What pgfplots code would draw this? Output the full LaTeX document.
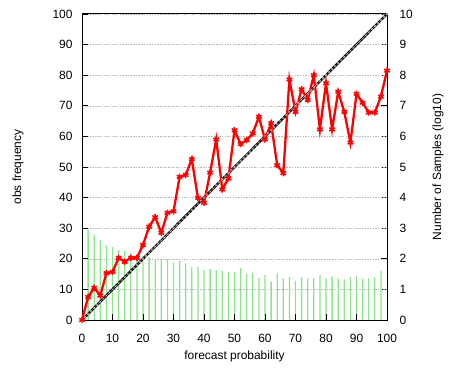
\documentclass[border=0pt]{standalone}
\usepackage{fontspec}
\setmainfont{Liberation Sans}
\usepackage{pgfplots}
\pgfplotsset{compat=1.18}
\definecolor{lgreen}{RGB}{140,228,140}
\definecolor{gridgray}{RGB}{185,185,185}
\begin{document}
\begin{tikzpicture}
\path[use as bounding box] (-82bp,-50bp) rectangle (369bp,320bp);
% right axis: number of samples
\begin{axis}[
  at={(0,0)}, anchor=south west,
  scale only axis, width=305bp, height=306bp,
  xmin=0, xmax=100, ymin=0, ymax=10,
  axis x line=none,
  axis y line*=right,
  tick align=inside,
  ytick={0,1,...,10},
  major tick length=6bp,
  tick style={black, line width=0.8pt},
  axis line style={black, line width=1pt},
  /pgf/number format/assume math mode=true,
  ticklabel style={font=\fontsize{12}{14}\selectfont},
  yticklabel style={xshift=9bp},
  ylabel={Number of Samples (log10)},
  ylabel style={font=\fontsize{12}{14}\selectfont, at={(axis description cs:1.167,0.5)}, anchor=center},
]
\addplot[ybar, bar width=1.3bp, fill=lgreen, draw=none] coordinates {
(0,3.00) (2,2.94) (4,2.78) (6,2.61) (8,2.45) (10,2.38) (12,2.29) (14,2.26) (16,2.18) (18,2.12)
(20,2.09) (22,2.05) (24,1.96) (26,1.96) (28,1.98) (30,1.87) (32,1.94) (34,1.85) (36,1.72) (38,1.74)
(40,1.63) (42,1.66) (44,1.63) (46,1.60) (48,1.57) (50,1.56) (52,1.70) (54,1.50) (56,1.55) (58,1.38)
(60,1.47) (62,1.25) (64,1.52) (66,1.36) (68,1.40) (70,1.28) (72,1.40) (74,1.36) (76,1.36) (78,1.47)
(80,1.36) (82,1.42) (84,1.36) (86,1.33) (88,1.40) (90,1.44) (92,1.36) (94,1.36) (96,1.39) (98,1.61)
};
\end{axis}
% main axis
\begin{axis}[
  at={(0,0)}, anchor=south west,
  scale only axis, width=305bp, height=306bp,
  xmin=0, xmax=100, ymin=0, ymax=100,
  xtick={0,10,...,100}, ytick={0,10,...,100},
  xtick pos=bottom, ytick pos=left,
  tick align=inside,
  major tick length=6bp,
  tick style={black, line width=0.8pt},
  axis line style={black, line width=1pt},
  ymajorgrids,
  major grid style={gridgray, dash pattern=on 1.5pt off 1.2pt, line width=0.5pt},
  /pgf/number format/assume math mode=true,
  ticklabel style={font=\fontsize{12}{14}\selectfont},
  yticklabel style={xshift=-6bp},
  xticklabel style={yshift=-11bp},
  xlabel={forecast probability},
  ylabel={obs frequency},
  xlabel style={font=\fontsize{12}{14}\selectfont, at={(axis description cs:0.5,-0.12)}, anchor=center},
  ylabel style={font=\fontsize{12}{14}\selectfont, at={(axis description cs:-0.21,0.5)}, anchor=center},
  clip=false,
]
\addplot[black, line width=2.4pt] coordinates {
(0,0) (1,1) (2,2) (3,3) (4,4) (5,5) (6,6) (7,7) (8,8) (9,9) (10,10) (11,11) (12,12) (13,13) (14,14) (15,15) (16,16) (17,17) (18,18) (19,19) (20,20) (21,21) (22,22) (23,23) (24,24) (25,25) (26,26) (27,27) (28,28) (29,29) (30,30) (31,31) (32,32) (33,33) (34,34) (35,35) (36,36) (37,37) (38,38) (39,39) (40,40) (41,41) (42,42) (43,43) (44,44) (45,45) (46,46) (47,47) (48,48) (49,49) (50,50) (51,51) (52,52) (53,53) (54,54) (55,55) (56,56) (57,57) (58,58) (59,59) (60,60) (61,61) (62,62) (63,63) (64,64) (65,65) (66,66) (67,67) (68,68) (69,69) (70,70) (71,71) (72,72) (73,73) (74,74) (75,75) (76,76) (77,77) (78,78) (79,79) (80,80) (81,81) (82,82) (83,83) (84,84) (85,85) (86,86) (87,87) (88,88) (89,89) (90,90) (91,91) (92,92) (93,93) (94,94) (95,95) (96,96) (97,97) (98,98) (99,99) (100,100)
};
\addplot[only marks, mark=x, mark size=1.8pt, gray!45, mark options={line width=0.45pt}] coordinates {
(0,0) (1,1) (2,2) (3,3) (4,4) (5,5) (6,6) (7,7) (8,8) (9,9) (10,10) (11,11) (12,12) (13,13) (14,14) (15,15) (16,16) (17,17) (18,18) (19,19) (20,20) (21,21) (22,22) (23,23) (24,24) (25,25) (26,26) (27,27) (28,28) (29,29) (30,30) (31,31) (32,32) (33,33) (34,34) (35,35) (36,36) (37,37) (38,38) (39,39) (40,40) (41,41) (42,42) (43,43) (44,44) (45,45) (46,46) (47,47) (48,48) (49,49) (50,50) (51,51) (52,52) (53,53) (54,54) (55,55) (56,56) (57,57) (58,58) (59,59) (60,60) (61,61) (62,62) (63,63) (64,64) (65,65) (66,66) (67,67) (68,68) (69,69) (70,70) (71,71) (72,72) (73,73) (74,74) (75,75) (76,76) (77,77) (78,78) (79,79) (80,80) (81,81) (82,82) (83,83) (84,84) (85,85) (86,86) (87,87) (88,88) (89,89) (90,90) (91,91) (92,92) (93,93) (94,94) (95,95) (96,96) (97,97) (98,98) (99,99) (100,100)
};
\addplot[red, line width=2.3pt, mark=asterisk, mark size=3.2pt, mark options={line width=1.5pt}] coordinates {
(0,0) (2,7.5) (4,10.5) (6,8) (8,15.3) (10,15.7) (12,20.3) (14,19) (16,20.3) (18,20.3)
(20,24.5) (22,30.5) (24,33.6) (26,28.5) (28,35) (30,35.5) (32,46.8) (34,47.4) (36,52.6) (38,39.9)
(40,38.3) (42,48.2) (44,59) (46,42.7) (48,46.3) (50,62) (52,57.5) (54,58.8) (56,61) (58,66.4)
(60,59) (62,64.3) (64,50.6) (66,48) (68,78.6) (70,68) (72,75.4) (74,71.9) (76,80) (78,62.3)
(80,77.4) (82,62.3) (84,74.6) (86,68) (88,58) (90,73.9) (92,71) (94,67.8) (96,67.8) (98,73)
(100,81.5)
};
\end{axis}
\end{tikzpicture}
\end{document}
